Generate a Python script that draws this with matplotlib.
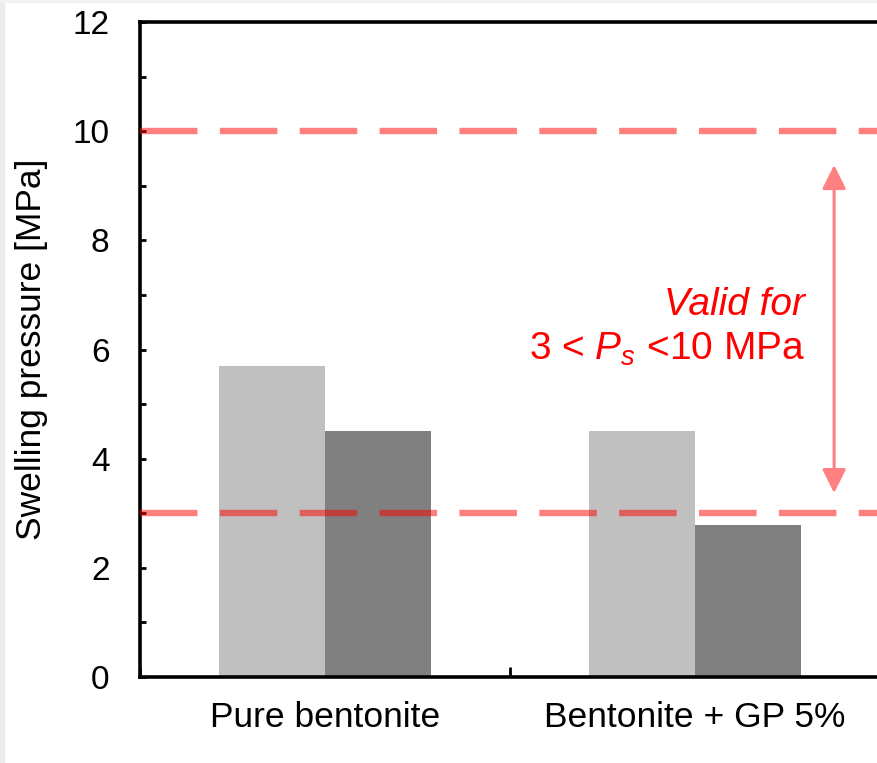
import matplotlib
matplotlib.use('Agg')
import matplotlib.pyplot as plt
from matplotlib.patches import Rectangle
from matplotlib.ticker import MultipleLocator
import numpy as np

plt.rcParams['font.family'] = ['Liberation Sans', 'DejaVu Sans']
plt.rcParams['mathtext.fontset'] = 'custom'
plt.rcParams['mathtext.rm'] = 'Liberation Sans'
plt.rcParams['mathtext.it'] = 'Liberation Sans:italic'

# swelling pressure for each mixture, two measurements per group
categories = ['Pure bentonite', 'Bentonite + GP 5%']
series_a = [5.7, 4.5]
series_b = [4.5, 2.78]
valid_low = 3
valid_high = 10
arrow_low = 3.37
arrow_high = 9.38

W, H = 877, 763
fig = plt.figure(figsize=(W / 100, H / 100), dpi=100, facecolor='white')
ax = fig.add_axes([140 / W, 86 / H, 740 / W, 655 / H])

# faint grey strip along the left and top edges
fig.patches.append(Rectangle((0, 0), 4 / W, 1, transform=fig.transFigure,
                             color='#ebebef', zorder=0))
fig.patches.append(Rectangle((0, 1 - 2 / H), 1, 2 / H, transform=fig.transFigure,
                             color='#f3f3f5', zorder=0))

x = np.arange(len(categories))
w = 0.286
ax.bar(x - w / 2, series_a, width=w, color='#c0c0c0', zorder=2)
ax.bar(x + w / 2, series_b, width=w, color='#808080', zorder=2)

# validity range of the correlation
for yv in (valid_low, valid_high):
    ax.axhline(yv, color='red', alpha=0.5, lw=4.6, ls=(0, (9, 3.5)), zorder=3)

ax.annotate('', xy=(1.376, arrow_high), xytext=(1.376, arrow_low),
            arrowprops=dict(arrowstyle='<|-|>,head_length=1.0,head_width=0.5',
                            color='#ff8080', lw=2.2, shrinkA=0, shrinkB=0,
                            mutation_scale=14.5), zorder=4)

ax.text(1.297, 6.63, 'Valid for', color='red', fontsize=28, style='italic',
        ha='right', va='baseline')
ax.text(1.297, 5.81, r'3 < $\mathit{P}_{\mathit{s}}$ <10 MPa', color='red',
        fontsize=28, ha='right', va='baseline')

ax.set_xlim(-0.5, 1.5)
ax.set_ylim(0, 12)
ax.yaxis.set_major_locator(MultipleLocator(2))
ax.yaxis.set_minor_locator(MultipleLocator(1))
ax.set_xticks([-0.5, 0.5, 1.5])
ax.set_xticklabels([])
ax.set_xticks(x, minor=True)
ax.set_xticklabels(categories, minor=True)

ax.tick_params(axis='y', which='both', direction='in', length=4.5, width=2,
               labelsize=24, pad=22)
ax.tick_params(axis='x', which='major', direction='in', length=7, width=2)
ax.tick_params(axis='x', which='minor', length=0, labelsize=25.5, pad=17)

for side in ('left', 'bottom', 'top'):
    ax.spines[side].set_linewidth(2.6)
ax.spines['right'].set_visible(False)

ax.set_ylabel('Swelling pressure [MPa]', fontsize=25.5)
ax.yaxis.set_label_coords(-92 / 740, 0.5)

fig.savefig('out.png', dpi=100, facecolor='white')
